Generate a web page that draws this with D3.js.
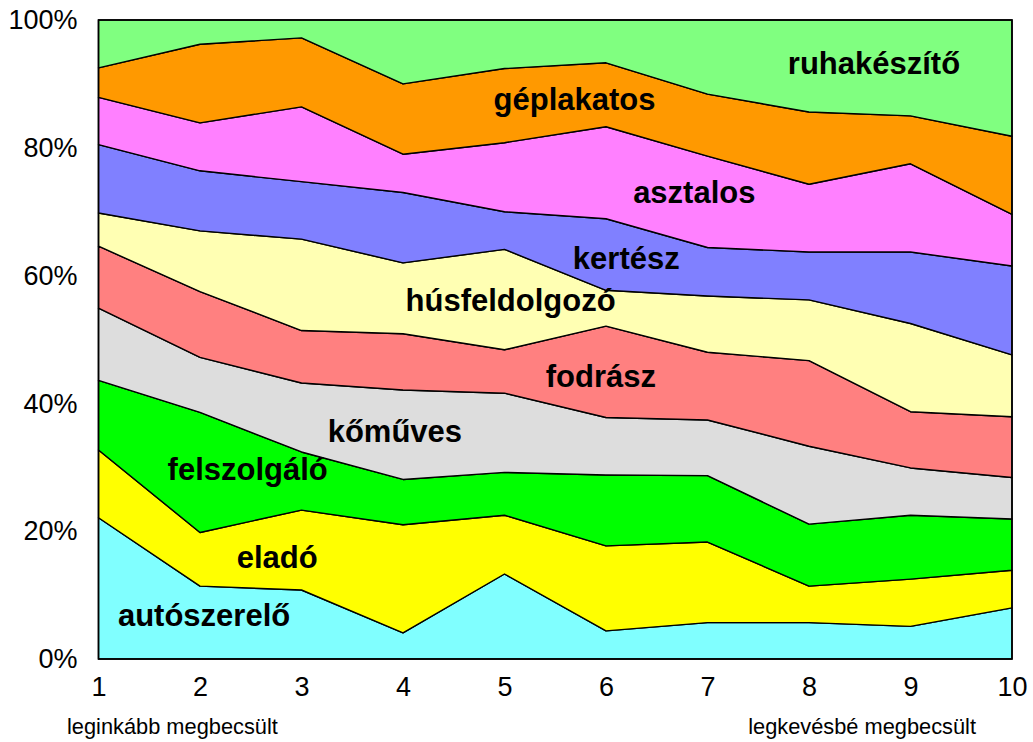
<!DOCTYPE html>
<html>
<head>
<meta charset="utf-8">
<script src="https://cdn.jsdelivr.net/npm/d3@7"></script>
<style>
  body { margin: 0; background: #fff; }
  svg { display: block; font-family: Arial, "Liberation Sans", sans-serif; }
</style>
</head>
<body>
<div id="chart"></div>
<script>
// DATA (share of answers, per rank 1..10)
const ranks = [1, 2, 3, 4, 5, 6, 7, 8, 9, 10];
const jobs = ["autószerelő", "eladó", "felszolgáló", "kőműves", "fodrász",
    "húsfeldolgozó", "kertész", "asztalos", "géplakatos", "ruhakészítő"];

const autoszerelo   = [22.1, 11.4, 10.8,  4.1, 13.3,  4.4,  5.7,  5.7,  5.1,  8.0];
const elado         = [10.6,  8.4, 12.5, 16.9,  9.2, 13.3, 12.6,  5.7,  7.4,  5.9];
const felszolgalo   = [10.9, 18.8,  9.1,  7.1,  6.7, 11.1, 10.4,  9.7, 10.0,  8.0];
const komuves       = [11.3,  8.6, 10.8, 14.0, 12.4,  9.0,  8.7, 12.2,  7.4,  6.5];
const fodrasz       = [ 9.7, 10.3,  8.2,  8.8,  6.8, 14.3, 10.6, 13.4,  8.8,  9.5];
const husfeldolgozo = [ 5.2,  9.5, 14.3, 11.1, 15.7,  5.6,  8.8,  9.5, 13.8,  9.7];
const kertesz       = [10.7,  9.4,  9.0, 11.0,  5.9, 11.2,  7.6,  7.5, 11.2, 13.9];
const asztalos      = [ 7.4,  7.5, 11.7,  6.0, 10.8, 14.4, 14.3, 10.6, 13.8,  8.1];
const geplakatos    = [ 4.6, 12.3, 10.8, 11.0, 11.6, 10.0,  9.7, 11.3,  7.5, 12.2];
const ruhakeszito   = [ 7.5,  3.8,  2.8, 10.0,  7.6,  6.7, 11.6, 14.4, 15.0, 18.2];

const series = [autoszerelo, elado, felszolgalo, komuves, fodrasz,
    husfeldolgozo, kertesz, asztalos, geplakatos, ruhakeszito];

const yTicks = [0, 0.2, 0.4, 0.6, 0.8, 1];
const endLabels = ["leginkább megbecsült", "legkevésbé megbecsült"];

// COLOURS
const colors = ["#80ffff", "#ffff00", "#00ff00", "#dddddd", "#ff8080",
    "#ffffb3", "#8080ff", "#ff80ff", "#ff9900", "#80ff80"];

// label anchor in data space: [rank, share]
const labelAt = [[2.04, 0.052], [2.76, 0.142], [2.47, 0.28], [3.92, 0.34], [5.95, 0.426],
    [5.06, 0.545], [6.2, 0.611], [6.87, 0.714], [5.69, 0.859], [8.64, 0.915]];

// TABLE for d3.stack
const table = ranks.map((r, i) => {
    const row = {rank: r};
    jobs.forEach((j, k) => row[j] = series[k][i]);
    return row;
});

const W = 1033, H = 742;
const x = d3.scaleLinear().domain([1, 10]).range([98.5, 1012]);
const y = d3.scaleLinear().domain([0, 1]).range([659, 20]);

const stacked = d3.stack()
    .keys(jobs)
    .offset(d3.stackOffsetExpand)(table);

const area = d3.area()
    .x(d => x(d.data.rank))
    .y0(d => y(d[0]))
    .y1(d => y(d[1]));

const svg = d3.select("#chart").append("svg")
    .attr("width", W)
    .attr("height", H);

svg.append("g")
    .selectAll("path")
    .data(stacked)
    .enter().append("path")
    .attr("d", area)
    .attr("fill", (d, i) => colors[i])
    .attr("stroke", "#000")
    .attr("stroke-width", 1.4)
    .attr("stroke-linejoin", "round");

// frame
svg.append("rect")
    .attr("x", x(1))
    .attr("y", y(1))
    .attr("width", x(10) - x(1))
    .attr("height", y(0) - y(1))
    .attr("fill", "none")
    .attr("stroke", "#000")
    .attr("stroke-width", 1.6);

// axes
const yAxis = svg.append("g")
    .attr("transform", `translate(${x(1)},0)`)
    .call(d3.axisLeft(y).tickValues(yTicks).tickFormat(d3.format(".0%")).tickSize(0).tickPadding(21));
yAxis.select(".domain").remove();
yAxis.selectAll("text").attr("font-size", 27).attr("fill", "#000")
    .attr("font-family", "Arial, 'Liberation Sans', sans-serif");

const xAxis = svg.append("g")
    .attr("transform", `translate(0,${y(0)})`)
    .call(d3.axisBottom(x).tickValues(ranks).tickFormat(d3.format("d")).tickSize(0).tickPadding(18));
xAxis.select(".domain").remove();
xAxis.selectAll("text").attr("font-size", 27).attr("fill", "#000")
    .attr("font-family", "Arial, 'Liberation Sans', sans-serif");

// end captions under the x axis
svg.append("text")
    .attr("x", 67).attr("y", 734)
    .attr("font-size", 21.8)
    .text(endLabels[0]);
svg.append("text")
    .attr("x", 976).attr("y", 734)
    .attr("text-anchor", "end")
    .attr("font-size", 21.8)
    .text(endLabels[1]);

// series labels
svg.append("g")
    .selectAll("text")
    .data(jobs)
    .enter().append("text")
    .attr("x", (d, i) => x(labelAt[i][0]))
    .attr("y", (d, i) => y(labelAt[i][1]))
    .attr("text-anchor", "middle")
    .attr("font-size", 31)
    .attr("font-weight", "bold")
    .text(d => d);
</script>
</body>
</html>
